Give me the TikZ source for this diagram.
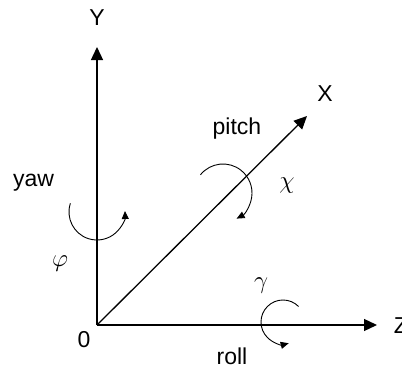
\documentclass[tikz,border=0pt]{standalone}
\usepackage{fontspec}
\setmainfont{Liberation Sans}
\usetikzlibrary{arrows.meta}
\begin{document}
\begin{tikzpicture}[x=1pt,y=1pt,
  axis/.style={line width=1.3pt,-{Triangle[length=13pt,width=12pt]}},
  rot/.style={line width=0.9pt,-{Triangle[length=8pt,width=7pt]}},
  lbl/.style={inner sep=0pt,font=\fontsize{23}{27}\selectfont},
  gk/.style={inner sep=0pt,font=\fontsize{28}{32}\selectfont}]
\useasboundingbox (0,0) rectangle (402,368);
\coordinate (O) at (97,43);
\coordinate (Yt) at (97,321);
\coordinate (Zt) at (377,43);
\coordinate (Xt) at (307,252);
\draw[axis] (O) -- (Yt);
\draw[axis] (O) -- (Zt);
\draw[axis] (O) -- (Xt);
\node[lbl] (Y) at (97,350) {Y};
\node[lbl] (X) at (325,274) {X};
\node[lbl] (Z) at (401,42) {Z};
\node[lbl] (zero) at (84,28) {0};
\node[lbl,anchor=base] (yaw) at (33.5,182) {yaw};
\node[lbl,anchor=base] (pitch) at (237,234) {pitch};
\node[lbl,anchor=base] (roll) at (232,4) {roll};
\node[gk] (phi) at (60,104) {$\varphi$};
\node[gk] (chi) at (287,182) {$\chi$};
\node[gk] (gam) at (261,82) {$\gamma$};
% yaw rotation
\coordinate (cy) at (97,156);
\draw[rot] (cy) ++(162:28) arc[start angle=162,end angle=362,radius=28];
% roll rotation
\coordinate (cr) at (283,46);
\draw[rot] (cr) ++(45:22) arc[start angle=45,end angle=285,radius=22];
% pitch rotation
\coordinate (cp) at (223,175);
\draw[rot] (cp) ++(141:29) arc[start angle=141,end angle=-62,radius=29];
\end{tikzpicture}
\end{document}
